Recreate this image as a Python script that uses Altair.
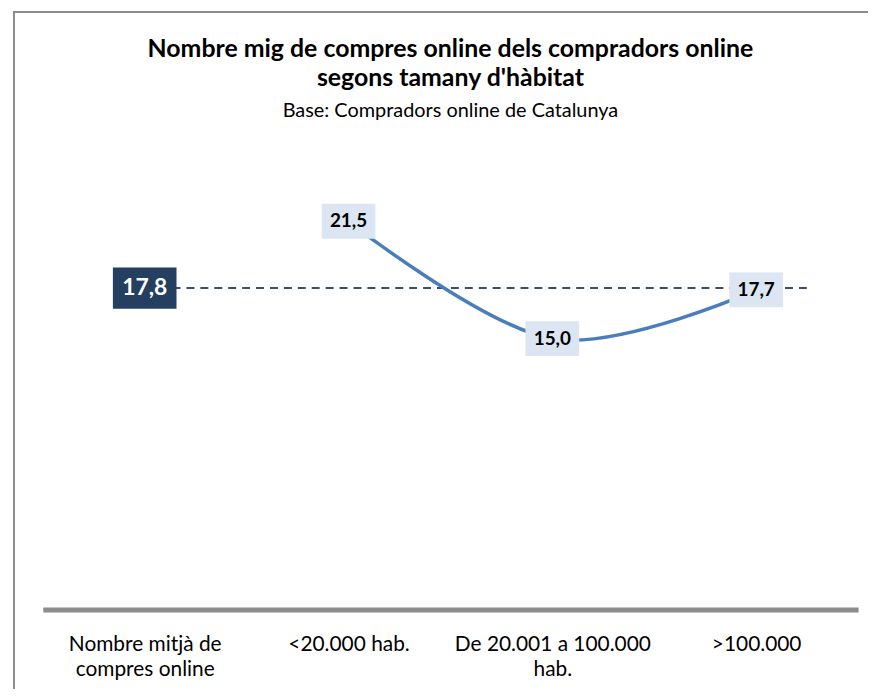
import json
import altair as alt
import pandas as pd

# ---- data ----
categories = ["Nombre mitjà de|compres online", "<20.000 hab.", "De 20.001 a 100.000|hab.", ">100.000"]
series_pos = [1, 2, 3]
series_values = [21.5, 15.0, 17.7]
average_pos = [0]
average_end = [3.27]
average_value = [17.8]

fmt = lambda v: f"{v:.1f}".replace(".", ",")
line_df = pd.DataFrame({"pos": series_pos, "value": series_values,
                        "label": [fmt(v) for v in series_values]})
avg_df = pd.DataFrame({"pos": average_pos, "end": average_end, "value": average_value,
                       "label": [fmt(v) for v in average_value]})
frame_df = pd.DataFrame({"a": [0]})

FONT = "Lato"
x_scale = alt.Scale(domain=[-0.5, 3.5], nice=False, zero=False)
y_scale = alt.Scale(domain=[0, 25], nice=False, zero=True)
label_expr = "split(" + json.dumps(categories, ensure_ascii=False) + "[datum.value], '|')"

x_enc = alt.X("pos:Q", scale=x_scale, axis=alt.Axis(
    values=[0, 1, 2, 3], labelExpr=label_expr, title=None, ticks=False, grid=False,
    domainColor="#8c8c8c", domainWidth=5, labelFont=FONT, labelFontSize=21,
    labelColor="#000", labelLineHeight=25, labelPadding=24, labelFlush=False,
    labelOverlap=False, labelBaseline="top", labelLimit=400))
y_enc = alt.Y("value:Q", scale=y_scale, axis=None)

frame = alt.Chart(frame_df).mark_rect(fillOpacity=0, stroke="#8c8c8c", strokeWidth=2, clip=False).encode(
    x=alt.value(-29), x2=alt.value(900), y=alt.value(-147), y2=alt.value(620))

avg_rule = alt.Chart(avg_df).mark_rule(color="#3b4e6c", strokeWidth=2, strokeDash=[8, 6]).encode(
    x=x_enc, x2="end:Q", y=y_enc)

line = alt.Chart(line_df).mark_line(color="#4a7ebb", strokeWidth=3.5, interpolate="cardinal").encode(
    x=x_enc, y=y_enc)

box_shape = "M-1,-0.65L1,-0.65L1,0.65L-1,0.65Z"
boxes = alt.Chart(line_df).mark_point(shape=box_shape, filled=True, fill="#dce6f2", opacity=1,
                                      size=54 * 54, strokeWidth=0).encode(x=x_enc, y=y_enc)
texts = alt.Chart(line_df).mark_text(font=FONT, fontSize=19, fontWeight="bold", color="#000").encode(
    x=x_enc, y=y_enc, text="label:N")

avg_box = alt.Chart(avg_df).mark_point(shape=box_shape, filled=True, fill="#243f60", opacity=1,
                                       size=64 * 64, strokeWidth=0).encode(x=x_enc, y=y_enc)
avg_text = alt.Chart(avg_df).mark_text(font=FONT, fontSize=23, fontWeight="bold", color="#ffffff").encode(
    x=x_enc, y=y_enc, text="label:N")

chart = alt.layer(frame, avg_rule, line, boxes, texts, avg_box, avg_text).properties(
    width=820, height=454,
    autosize=alt.AutoSizeParams(type="none"),
    padding={"left": 35, "top": 149, "right": 10, "bottom": 78},
    title=alt.TitleParams(
        text=["Nombre mig de compres online dels compradors online", "segons tamany d'hàbitat"],
        subtitle="Base: Compradors online de Catalunya",
        font=FONT, fontSize=25, fontWeight="bold", color="#000", lineHeight=29,
        subtitleFont=FONT, subtitleFontSize=20, subtitleColor="#000", subtitlePadding=11,
        anchor="middle", offset=-111),
).configure_view(strokeWidth=0)

chart.save("out.html", embed_options={"renderer": "svg", "actions": False})
